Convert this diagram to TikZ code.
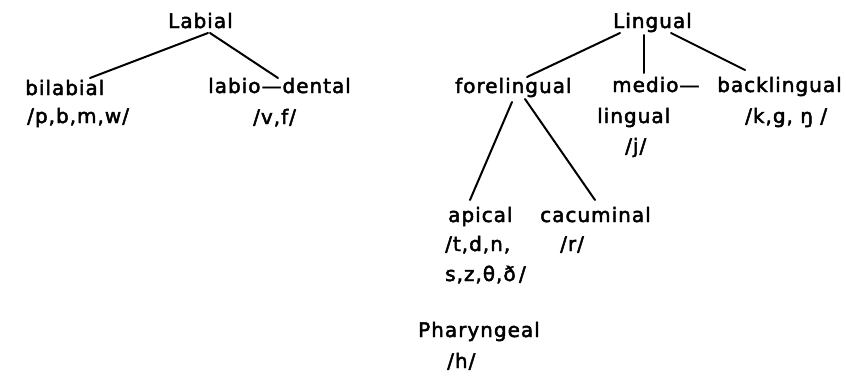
\documentclass[tikz,border=0pt]{standalone}
\usepackage{fontspec}
\setmainfont{DejaVu Sans}[LetterSpace=5,FakeBold=2.4]
\begin{document}
\begin{tikzpicture}[x=1pt,y=-1pt,
  lbl/.style={inner sep=0pt, anchor=base west, font=\fontsize{20}{22}\selectfont},
  br/.style={line width=2pt, line cap=round}]
\useasboundingbox[fill=white] (0,0) rectangle (846,375);
% Labial tree
\node[lbl] (labial) at (168,28) {Labial};
\node[lbl] (bilabial) at (25,95) {bilabial};
\node[lbl] (pbmw) at (27,123) {/p,b,m,w/};
\node[lbl] (labiodental) at (208,93) {labio—dental};
\node[lbl] (vf) at (253,124) {/v,f/};
% Lingual tree
\node[lbl] (lingual) at (613,28) {Lingual};
\node[lbl] (fore) at (455,93) {forelingual};
\node[lbl] (medio) at (612,92) {medio—};
\node[lbl] (mediotwo) at (597,123) {lingual};
\node[lbl] (j) at (625,153) {/j/};
\node[lbl] (back) at (717,92) {backlingual};
\node[lbl] (kg) at (745,123) {/k,g,\ ŋ\ /};
\node[lbl] (apical) at (448,222) {apical};
\node[lbl] (cacuminal) at (540,222) {cacuminal};
\node[lbl] (tdn) at (445,251) {/t,d,n,};
\node[lbl] (r) at (560,251) {/r/};
\node[lbl] (szth) at (445,281) {s,z,θ,ð\,/};
% Pharyngeal
\node[lbl] (phar) at (418,337) {Pharyngeal};
\node[lbl] (h) at (447,368) {/h/};
% connectors
\draw[br] ([shift={(40pt,-5pt)}]labial.base west) -- ([shift={(65pt,17pt)}]bilabial.base west);
\draw[br] ([shift={(42pt,-5pt)}]labial.base west) -- ([shift={(70pt,15pt)}]labiodental.base west);
\draw[br] ([shift={(7pt,-5pt)}]lingual.base west) -- ([shift={(72pt,16pt)}]fore.base west);
\draw[br] ([shift={(31pt,-7pt)}]lingual.base west) -- ([shift={(32pt,19pt)}]medio.base west);
\draw[br] ([shift={(58pt,-5pt)}]lingual.base west) -- ([shift={(28pt,22pt)}]back.base west);
\draw[br] ([shift={(57pt,-9pt)}]fore.base west) -- ([shift={(22pt,22pt)}]apical.base west);
\draw[br] ([shift={(70pt,-6pt)}]fore.base west) -- ([shift={(55pt,22pt)}]cacuminal.base west);
\end{tikzpicture}
\end{document}
